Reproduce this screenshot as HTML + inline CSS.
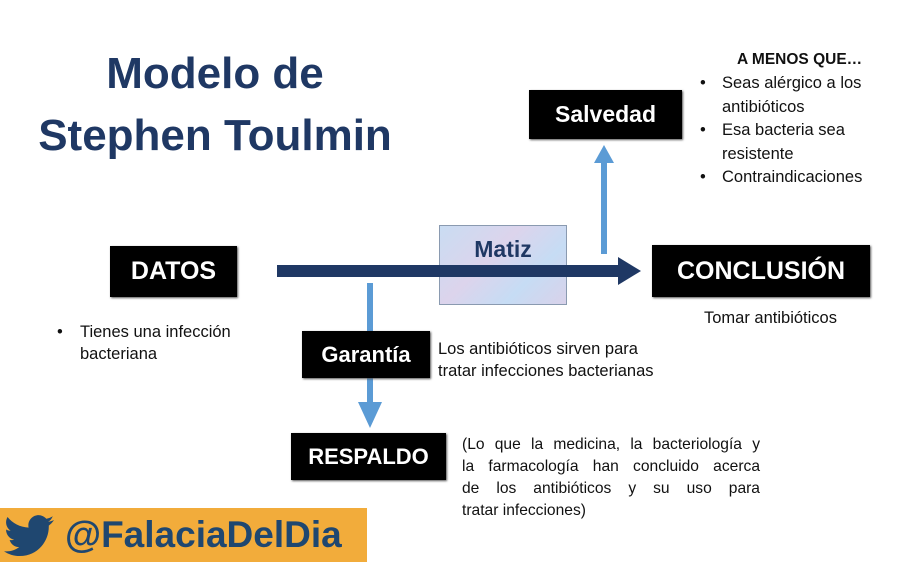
<!DOCTYPE html>
<html><head><meta charset="utf-8"><style>
body{margin:0;width:900px;height:562px;background:#fff;position:relative;overflow:hidden;font-family:"Liberation Sans","DejaVu Sans",sans-serif}
.a{position:absolute}
.box{position:absolute;background:#000;color:#fff;font-weight:bold;display:flex;align-items:center;justify-content:center;box-shadow:1px 1px 2px #555}
.t{position:absolute;font-size:16.5px;color:#111;line-height:22px}
.j{position:absolute;left:462px;width:298px;font-size:15.6px;color:#111;line-height:22px;text-align:justify;text-align-last:justify;white-space:nowrap}
</style></head><body>
<div class="a" style="left:0;top:43px;width:430px;text-align:center;color:#1f3864;font-weight:bold;font-size:44px;line-height:62px">Modelo de<br>Stephen Toulmin</div>

<div class="a" style="left:439px;top:225px;width:126px;height:78px;background:linear-gradient(135deg,#c9dcf2,#dcd4ec 40%,#c6dcf4 70%,#d9d2ea);border:1px solid #8a9ab0"></div>
<div class="a" style="left:439px;top:236px;width:128px;text-align:center;color:#1f3864;font-weight:bold;font-size:23px">Matiz</div>

<svg class="a" style="left:0;top:0" width="900" height="562">
<rect x="277" y="265" width="343" height="12" fill="#1f3864"/>
<polygon points="618,257 641,271 618,285" fill="#1f3864"/>
<rect x="601" y="162" width="6" height="92" fill="#5b9bd5"/>
<polygon points="594,163 604,145 614,163" fill="#5b9bd5"/>
<rect x="367" y="283" width="6" height="120" fill="#5b9bd5"/>
<polygon points="358,402 382,402 370,428" fill="#5b9bd5"/>
</svg>

<div class="box" style="left:110px;top:246px;width:127px;height:51px;font-size:25px">DATOS</div>
<div class="box" style="left:652px;top:245px;width:218px;height:52px;font-size:25px">CONCLUSIÓN</div>
<div class="box" style="left:529px;top:90px;width:153px;height:49px;font-size:23px">Salvedad</div>
<div class="box" style="left:302px;top:331px;width:128px;height:47px;font-size:22px">Garantía</div>
<div class="box" style="left:291px;top:433px;width:155px;height:47px;font-size:22px">RESPALDO</div>

<div class="t" style="left:57px;top:321px">•</div>
<div class="t" style="left:80px;top:321px">Tienes una infección<br>bacteriana</div>
<div class="t" style="left:704px;top:307px">Tomar antibióticos</div>
<div class="t" style="left:438px;top:338px">Los antibióticos sirven para<br>tratar infecciones bacterianas</div>
<div class="j" style="top:434px">(Lo que la medicina, la bacteriología y</div>
<div class="j" style="top:456px">la farmacología han concluido acerca</div>
<div class="j" style="top:478px">de los antibióticos y su uso para</div>
<div class="t" style="left:462px;top:500px;font-size:15.6px">tratar infecciones)</div>

<div class="t" style="left:737px;top:49px;font-weight:bold;font-size:15.5px">A MENOS QUE…</div>
<div class="t" style="left:700px;top:72px;line-height:23.5px">•<br><br>•<br><br>•</div>
<div class="t" style="left:722px;top:72px;line-height:23.5px">Seas alérgico a los<br>antibióticos<br>Esa bacteria sea<br>resistente<br>Contraindicaciones</div>

<div class="a" style="left:0;top:508px;width:367px;height:54px;background:#f2ac3b"></div>
<svg class="a" style="left:4px;top:515px" width="50" height="42" viewBox="0 0 24 20"><path fill="#1f4770" d="M24 2.4c-.9.4-1.8.6-2.8.8 1-.6 1.8-1.6 2.2-2.7-1 .6-2 1-3.1 1.2C19.3.7 18 0 16.6 0c-2.7 0-4.9 2.2-4.9 4.9 0 .4 0 .8.1 1.1C7.7 5.8 4.1 3.9 1.7.9c-.4.7-.7 1.6-.7 2.5 0 1.7.9 3.2 2.2 4.1-.8 0-1.6-.2-2.2-.6v.1c0 2.4 1.7 4.4 3.9 4.8-.4.1-.8.2-1.3.2-.3 0-.6 0-.9-.1.6 2 2.4 3.4 4.6 3.4-1.7 1.3-3.8 2.1-6.1 2.1-.4 0-.8 0-1.2-.1C2.2 18.8 4.8 19.6 7.5 19.6c9.1 0 14-7.5 14-14v-.6c1-.7 1.8-1.6 2.5-2.6z"/></svg>
<div class="a" style="left:65px;top:510px;font-size:37px;font-weight:bold;color:#1f4770;line-height:50px">@FalaciaDelDia</div>
</body></html>
